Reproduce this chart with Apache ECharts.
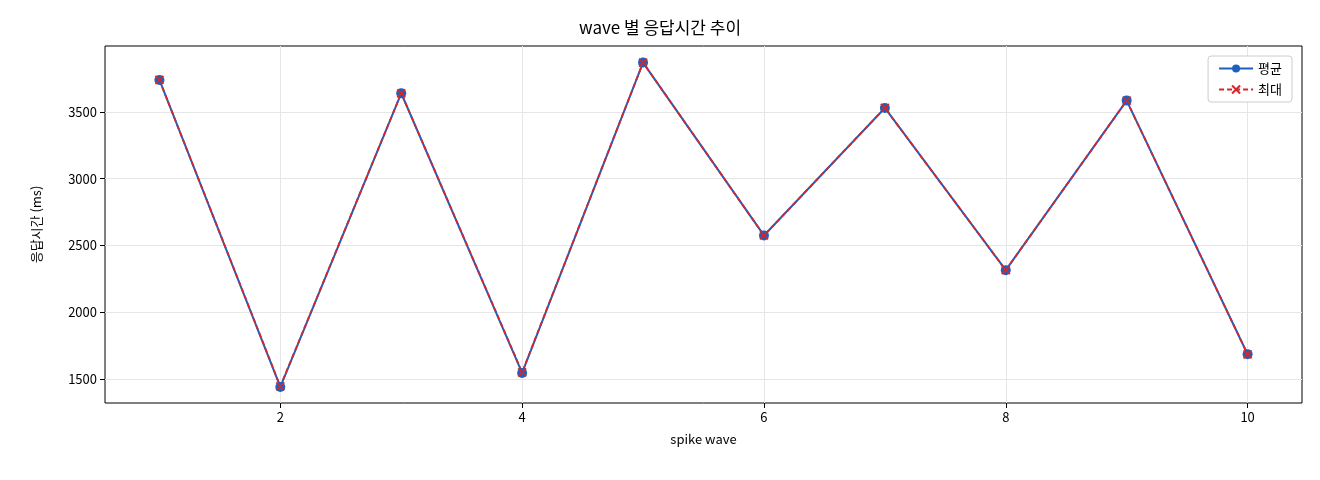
<!DOCTYPE html>
<html><head><meta charset="utf-8">
<script src="https://cdn.jsdelivr.net/npm/echarts@6/dist/echarts.min.js"></script>
<style>body{margin:0}#c{width:1320px;height:480px}</style></head>
<body><div id="c"></div>
<script>
const waves=[1,2,3,4,5,6,7,8,9,10];
const avgVals=[3740,1440,3640,1545,3870,2575,3530,2315,3585,1685];
const maxVals=[3740,1445,3640,1550,3870,2575,3530,2315,3585,1685];
const xTicks=[2,4,6,8,10];
const yTicks=[1500,2000,2500,3000,3500];
const F='"Noto Sans CJK KR", "Noto Sans", sans-serif';
const xSym='path://M0,0L10,10M10,0L0,10';
const c=echarts.init(document.getElementById('c'));
c.setOption({
 animation:false,
 title:{text:'wave 별 응답시간 추이',left:'center',top:14,textStyle:{fontFamily:F,fontSize:17,fontWeight:'normal',color:'#000'}},
 grid:{left:105,right:18,top:46,bottom:77,show:true,borderColor:'#000',borderWidth:1},
 legend:{right:28,top:56,orient:'vertical',itemGap:8,backgroundColor:'#fff',borderColor:'#ccc',borderWidth:1,borderRadius:3,padding:[6,10],
   textStyle:{fontFamily:F,fontSize:13,color:'#000'},itemWidth:34,itemHeight:10,
   data:['평균','최대']},
 xAxis:{type:'value',min:0.55,max:10.45,name:'spike wave',nameLocation:'middle',nameGap:30,
   nameTextStyle:{fontFamily:F,fontSize:13,color:'#000'},
   axisLine:{show:false},axisTick:{show:true,length:5,lineStyle:{color:'#000'},customValues:xTicks},
   axisLabel:{customValues:xTicks,fontFamily:F,fontSize:13,color:'#000'},
   splitLine:{show:true,lineStyle:{color:'#e6e6e6'}}},
 yAxis:{type:'value',min:1320,max:3994,name:'응답시간 (ms)',nameLocation:'middle',nameGap:62,
   nameTextStyle:{fontFamily:F,fontSize:13,color:'#000'},
   axisLine:{show:false},axisTick:{show:true,length:5,lineStyle:{color:'#000'},customValues:yTicks},
   axisLabel:{customValues:yTicks,formatter:v=>String(v),fontFamily:F,fontSize:13,color:'#000'},
   splitLine:{show:true,lineStyle:{color:'#e6e6e6'}}},
 series:[
  {name:'평균',type:'line',data:waves.map((w,i)=>[w,avgVals[i]]),symbol:'circle',symbolSize:10,
   lineStyle:{color:'#1f5fbf',width:2},itemStyle:{color:'#1f5fbf'}},
  {name:'최대',type:'line',data:waves.map((w,i)=>[w,maxVals[i]]),symbol:xSym,symbolSize:8,
   lineStyle:{color:'#d62728',width:1.8,type:[5,3]},itemStyle:{color:'#d62728',borderColor:'#d62728',borderWidth:1.8}}
 ]
});
</script></body></html>
